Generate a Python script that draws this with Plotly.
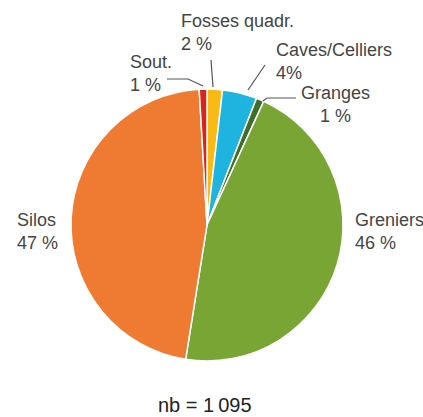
import plotly.graph_objects as go

W, H = 423, 417

categories = ["Fosses quadr.", "Caves/Celliers", "Granges", "Greniers", "Silos", "Sout."]
counts = [20, 45, 10, 500, 510, 10]
pct_labels = ["2 %", "4%", "1 %", "46 %", "47 %", "1 %"]
colors = ["#F9BA16", "#1FB3E0", "#3C6E2A", "#79A534", "#EE7B31", "#D9231F"]
total_label = "nb = 1\u2009095"

def px(x):
    return x / W

def py(y):
    return 1 - y / H

cx, cy, r = 207, 225, 136

fig = go.Figure(go.Pie(
    labels=categories,
    values=counts,
    sort=False,
    direction="clockwise",
    rotation=0,
    textinfo="none",
    hoverinfo="label+percent",
    marker=dict(colors=colors, line=dict(color="white", width=1.5)),
    domain=dict(x=[px(cx - r), px(cx + r)], y=[py(cy + r), py(cy - r)]),
    showlegend=False,
))

font = dict(family="Liberation Sans, Arial, sans-serif", size=18, color="#444444")

placements = {
    "Fosses quadr.": (179, 33, "left"),
    "Caves/Celliers": (274, 62, "left"),
    "Granges": (299, 104, "center"),
    "Greniers": (353, 231, "left"),
    "Silos": (15, 231, "left"),
    "Sout.": (128, 73, "left"),
}

annotations = []
for cat, pct in zip(categories, pct_labels):
    x, y, al = placements[cat]
    annotations.append(dict(
        x=px(x), y=py(y), xref="paper", yref="paper",
        xanchor="left", yanchor="middle", align=al,
        text=f"{cat}<br>{pct}", showarrow=False, font=font,
    ))
annotations.append(dict(
    x=px(205), y=py(405), xref="paper", yref="paper",
    xanchor="center", yanchor="middle",
    text=total_label, showarrow=False,
    font=dict(family="Liberation Sans, Arial, sans-serif", size=20, color="#222222"),
))

leaders = [
    [(211, 60), (213, 87)],
    [(167, 79), (188, 79), (203, 86)],
    [(265, 65), (248, 90)],
    [(296, 98), (267, 98), (263, 101)],
]
shapes = []
for pts in leaders:
    path = "M " + " L ".join(f"{px(x)},{py(y)}" for x, y in pts)
    shapes.append(dict(type="path", xref="paper", yref="paper", path=path,
                       line=dict(color="#555555", width=1.2)))

fig.update_layout(
    width=W, height=H,
    margin=dict(l=0, r=0, t=0, b=0),
    paper_bgcolor="white", plot_bgcolor="white",
    annotations=annotations, shapes=shapes,
)

fig.write_html(
    "out.html",
    config={"displayModeBar": False},
    post_script="document.body.style.margin='0';document.body.style.overflow='hidden';",
)
